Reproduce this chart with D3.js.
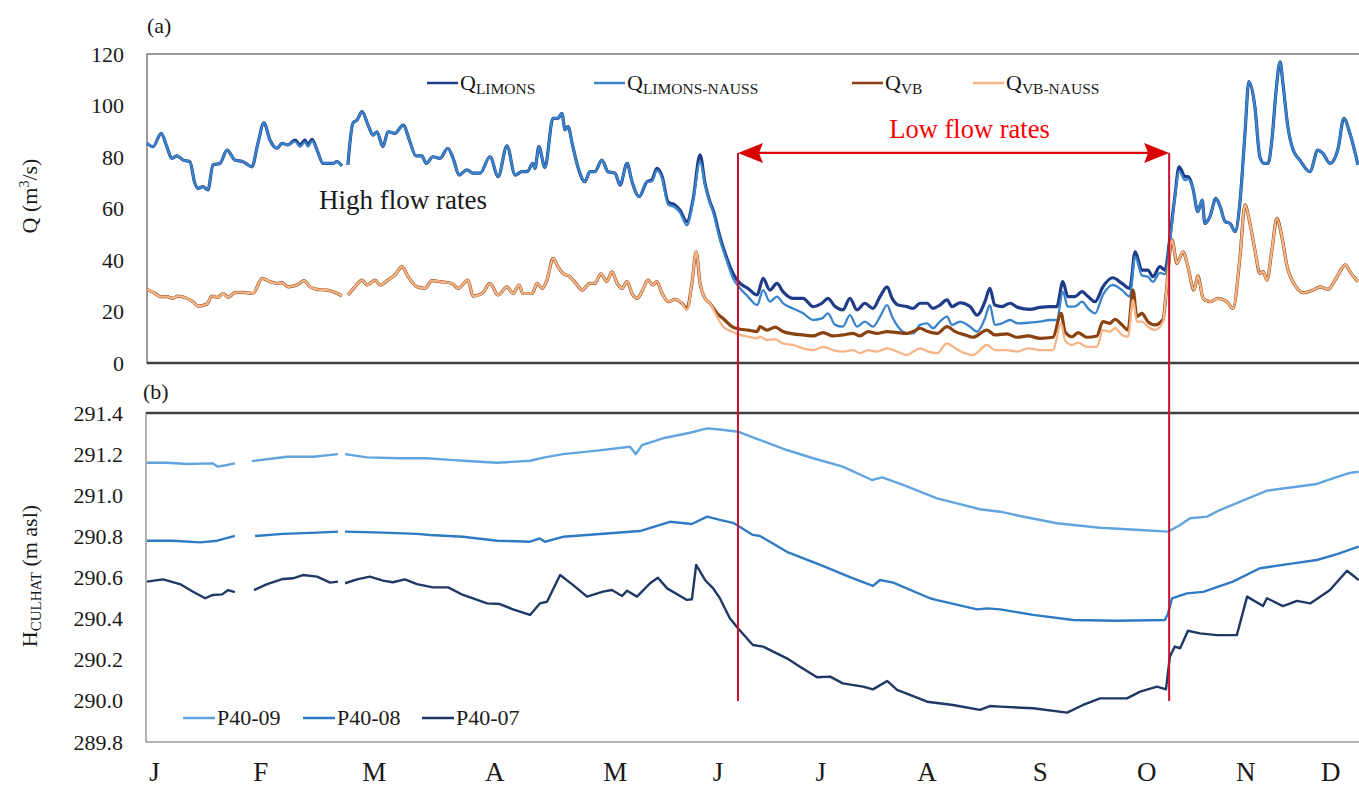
<!DOCTYPE html>
<html>
<head>
<meta charset="utf-8">
<script src="https://cdn.jsdelivr.net/npm/d3@7"></script>
<style>
body { margin: 0; background: #fff; }
text { font-family: "Liberation Serif", "Times New Roman", serif; fill: #1a1a1a; }
</style>
</head>
<body>
<svg id="chart" width="1359" height="789"></svg>
<script>
// ---- data (day of year) ----
var daysLimons = [0,1.7,4,5.6,7,8.5,10.2,12.1,13.5,14.4,
	15.8,17.2,18.6,20.6,22.6,24.8,27.1,29.6,31.3,33,
	34.7,36.7,38.1,39.8,41.8,43.2,44.6,45.4,46.6,48,
	49.7,51.1,52.5,53.6,55,55.8,56.7,58.1,59.3,60.7,
	62.4,63.8,64.9,66.6,68,70,72.3,74.2,75.9,77.6,
	78.8,80.7,82.7,84.9,86.4,88.1,90.3,92,94,96.8,
	99.1,101.6,103.9,105.8,107.3,108.9,109.5,110.6,112.3,114.6,
	116,117.1,118,118.8,120.2,121.6,123.6,125,126.4,128.4,
	130.1,132.1,133.5,135.5,136.9,138.9,141.1,142.5,143.9,145.4,
	147.1,149,150.4,152.4,154.1,156.1,157.5,158.9,159.8,161.7,
	163.7,165.4,167.4,169.6,172.2,173.9,175.8,177.8,179.5,182.3,
	185.2,188,190.5,192.2,194.2,196.4,198.4,200.4,202.6,204.9,
	206.9,208.9,210.3,212,214.5,216.2,218.2,220.2,221.8,223.8,
	225.8,227.2,229.5,232.3,234.3,236.5,237.9,239.3,241.3,243.6,
	245.8,249.2,252,254.9,256.8,258.5,259.9,261.9,263.9,265.6,
	267.6,269.8,272.6,275.2,277.4,278.9,280.8,282.5,283.9,285.9,
	287.3,288.7,290.1,291.3,293,293.8,295.2,296.6,297.8,298.6,
	300,301.7,302.9,304.3,305.7,307.1,308.5,309.9,311,312.7,
	314.1,315.3,316.4,317.5,318.7,319.8,320.6,322,323.5,325.4,
	328.2,330.5,331.9,333.9,336.2,337.8,339.5,341.8];

var qLimons = [85.3,84,89.2,84,79.5,80.4,78.8,78.2,69.8,67.8,
	68.5,67.2,76.9,77.5,82.7,78.8,78.2,76.2,85.3,93.3,
	86.6,83.4,85.3,84.7,86.6,84.7,86.6,84.7,86.9,82.7,
	77.5,77.5,77.5,78.2,76.5,null,76.9,93.1,94.4,97.6,
	92.4,88.5,89.8,84,89.8,89.2,92.4,86,80.4,80.4,
	77.5,80.1,79.5,83.4,79.5,73,75,73.7,73.7,80.1,
	72.4,84.3,73,74.3,74.3,77.5,75.6,84,76,95,
	95,97,90.5,91.8,84,76.2,70.4,74.3,74.3,78.8,
	74.3,73.7,69.1,77.5,70.4,64.6,70.4,71.1,75.6,72.4,
	62.5,61.4,59.4,54.9,63.3,80.8,69.8,62.5,59.4,49.1,
	40.6,34.8,30.9,29,26.4,32.9,28.3,30.9,27.7,25.1,
	25.1,21.9,23.2,25.1,21.9,20.6,25.1,20.6,23.2,21.2,
	25.8,29.6,25.1,22.5,21.9,21.2,23.2,23.2,21.2,22.5,
	24.5,21.9,23.4,21.9,18.6,23.8,29,22.5,21.9,23.2,
	21.6,20.8,21.6,21.9,21.9,31.6,25.8,25.8,27.7,25.8,
	23.8,29.6,33.1,30.9,29,43.2,36.1,36.1,33.5,37.4,
	36.1,48.5,64.6,76.2,72.4,72.4,67.8,58.8,63.3,54.2,
	56.8,63.9,60.7,54.9,54.2,51,62.7,89.2,109.3,99.5,
	80.1,77.5,77.5,86.6,106,117,108.7,91.8,82.7,78.8,
	74.3,82.7,81.4,77.5,83.4,95,89.2,76.9];

var qLimonsNauss = [85.3,84,89.2,84,79.5,80.4,78.8,78.2,69.8,67.8,
	68.5,67.2,76.9,77.5,82.7,78.8,78.2,76.2,85.3,93.3,
	86.6,83.4,85.3,84.7,86,84,85.8,84,86.2,82.7,
	77.5,77.5,77.5,78.2,76.5,null,76.9,93.1,94.4,97.6,
	92.4,88.5,89.8,84,89.8,89.2,92.4,86,80.4,80.4,
	77.5,80.1,79.5,83.4,79.5,73,75,73.7,73.7,80.1,
	72.4,84.3,73,74.3,74.3,77.5,75.6,84,76,95,
	95,97,90.5,91.8,84,76.2,70.4,74.3,74.3,78.8,
	74.3,73.7,69.1,77.5,70.4,64.6,70.4,70.5,74.8,71.6,
	61.5,60.5,58.5,53.5,62.5,78.2,69,62,58.5,48,
	39.5,32.9,29,25.8,22.5,28.3,23.8,25.8,23.2,21.2,
	19.3,16.7,17.3,19.3,14.8,14.1,18.6,14.1,16.1,14.1,
	18,22.5,18,14.1,11.5,11.5,14.8,15.4,13.5,16.1,
	18,14.8,16.1,14.1,12.2,17.3,22.5,14.8,15.4,16.7,
	15.4,15.7,16.1,16.7,16.7,27.7,21.9,21.9,23.8,21.2,
	19.3,26.4,30.3,28.3,25.8,41.3,34,33.5,31.5,35,
	34.5,47,64,74.5,71,71.5,67.8,58.8,63.3,54.2,
	56.8,63.9,60.7,54.9,54.2,51,62.7,89.2,109.3,99.5,
	80.1,77.5,77.5,86.6,106,117,108.7,91.8,82.7,78.8,
	74.3,82.7,81.4,77.5,83.4,95,89.2,76.9];

var daysVB = [0,2.3,3.7,5.6,7.3,8.7,11.3,13,14.4,16.9,
	18.3,20,21.5,22.9,24.8,27.1,29.9,32.5,34.7,36.7,
	38.1,39.8,42.3,44.3,46,48,50.8,53.1,55,55.8,
	56.7,58.7,60.7,62.1,64.4,65.8,68,70,72,73.7,
	76.2,78.5,80.4,82.7,86.1,87.8,90.6,92,94.6,96.8,
	99.1,101.6,103.3,105,106.1,108.7,110.1,111.5,112.9,114.6,
	116,117.4,119.4,121.4,122.8,125,126.4,128.1,129.8,131.2,
	132.7,134.1,135.5,136.9,138.3,139.7,141.4,142.8,143.9,145.4,
	147.1,149,151,152.4,153.8,155,156.1,157.5,158.9,160.9,
	162.6,165.1,167.4,169.6,172.2,173,175,177.3,179.5,182.3,
	185.2,188,190.8,193.6,196.4,199.3,201.2,203.5,206,208.9,
	211.7,214.5,216.2,218.2,220.4,223,225.8,228.1,230.9,233.1,
	237.1,239.3,242.7,245.6,248.7,252,255.7,258,259.1,261.1,
	262.8,265.3,268.1,269.8,271.8,273.2,275.2,276.9,278.3,279.4,
	280.8,282.5,284.5,286.8,287.6,289.3,290.7,292.4,293.8,295.5,
	296.6,298.1,300,302.3,304.8,306.5,308.5,309.9,311.3,312.7,
	314.1,315,316.1,317.5,318.9,320.3,321.8,324,326.3,329.1,
	331.1,333.3,335.9,338.2,339.5,341.8];

var qVB = [28.6,27,25.8,25.8,25.1,26,25.1,23.8,22.1,22.9,
	26,25.5,27,25.5,27.3,27.4,27,32.9,31.6,30.9,
	31.2,29.6,30.3,32,29.6,28.6,28.3,27.4,26.1,null,
	26.4,29.6,32.2,30.3,32.2,30.3,32.2,34.2,37.4,33.5,
	29.6,29,32,31.6,30.9,29,32.2,26,27,30.9,
	26.4,29.6,27,30.3,27,27,30.9,29,32.2,40.6,
	37.4,34.8,33.5,30.3,28.3,30.9,30.9,34.6,31.6,35.5,
	30.9,29,31.6,27,25.1,27.7,32.2,30.3,31.6,27,
	23.8,24.7,23.2,21.2,30.9,43.2,30.9,25.1,23.2,19.3,
	17.3,14.1,13.1,12.8,12.2,14.1,12.8,13.9,12.2,11.3,
	10.9,10.5,11.8,10.5,10.9,11.5,10.5,12.2,11.5,12.2,
	11.8,11.5,12.2,13.5,12.2,11.5,14.1,12.2,10.9,10,
	12.8,10.9,11.3,10,10.5,9.6,10,19.3,12.2,10.2,
	11.8,10,10.5,16.1,15.4,17,14.8,12.8,28.3,18,
	19.3,16.1,14.8,17,26.4,47.8,38.7,43.2,37.4,28.3,
	33.8,25.1,23.8,25.1,23.8,21.2,41.3,61.4,54.2,43.9,
	34.8,35.5,32.2,43.9,56.2,49.1,37.4,30.3,27.3,28.3,
	29.6,28.6,33.5,38.1,35.5,31.6];

var qVBNauss = [28.6,27,25.8,25.8,25.1,26,25.1,23.8,22.1,22.9,
	26,25.5,27,25.5,27.3,27.4,27,32.9,31.6,30.9,
	31.2,29.6,30.3,32,29.6,28.6,28.3,27.4,26.1,null,
	26.4,29.6,32.2,30.3,32.2,30.3,32.2,34.2,37.4,33.5,
	29.6,29,32,31.6,30.9,29,32.2,26,27,30.9,
	26.4,29.6,27,30.3,27,27,30.9,29,32.2,40.6,
	37.4,34.8,33.5,30.3,28.3,30.9,30.9,34.6,31.6,35.5,
	30.9,29,31.6,27,25.1,27.7,32.2,30.3,31.6,27,
	23.8,24.7,23.2,20.6,30.9,43.2,30.9,25.1,23.2,18,
	14.1,12.2,10.9,10.2,9.6,10.2,8.9,9.2,7.6,7,
	5.7,5,6.3,5,4.4,5,3.8,5,4.4,5.7,
	4.4,3.1,4.4,5.7,4.4,3.8,7.6,5.7,3.8,3.1,
	7,5,5,4.4,5.7,5,5,15.4,8.9,7,
	7.9,6.3,6.3,12.8,12.2,13.5,10.9,10.2,24.5,16.1,
	16.1,14.1,12.8,16.1,26.4,47.8,38.7,43.2,37.4,28.3,
	33.8,25.1,23.8,25.1,23.8,21.2,41.3,61.4,54.2,43.9,
	34.8,35.5,32.2,43.9,56.2,49.1,37.4,30.3,27.3,28.3,
	29.6,28.6,33.5,38.1,35.5,31.6];

var days09 = [0,5.6,11.3,18.6,20,22.6,24.8,27,29.6,33.9,39.5,46.9,53.9,55,
	55.9,62.1,71.4,79,85.5,89.2,98.8,108.1,112.3,117.4,
	127,136.3,138,139.7,145.6,153.3,158.1,161.7,166.8,171,
	180.6,188,196.4,204.6,207.5,213.4,223,235.1,240.8,246.4,
	256.8,269,280.3,288.2,291.6,294.4,299.2,302.8,316.1,330.2,
	334.7,339.5,342];
var h09 = [291.158,291.158,291.152,291.155,291.139,291.147,291.155,null,291.166,291.175,291.187,291.187,291.2,null,
	291.2,291.184,291.18,291.18,291.172,291.168,291.158,291.168,291.184,291.2,
	291.217,291.236,291.2,291.244,291.277,291.304,291.325,291.32,291.309,291.282,
	291.22,291.18,291.139,291.074,291.087,291.05,290.985,290.932,290.92,290.899,
	290.864,290.842,290.831,290.823,290.855,290.888,290.896,290.928,291.022,291.055,
	291.082,291.109,291.114];

var days08 = [0,7.3,15,19.8,24.8,27,30.5,38.4,48,53.9,
	55,55.9,66.6,76.2,79.9,89.2,98.8,108.1,110.9,112.3,
	117.4,127,139.1,147.6,153.8,158.1,161.7,165.4,171,173,
	180.6,190,199.3,204.9,206.9,210.6,221,223,234.3,237.1,
	240.8,250.1,261.4,273.8,287.3,288.2,289.3,293.5,298.1,306.5,
	314.1,323.5,330.2,335.9,342];
var h08 = [290.779,290.779,290.771,290.779,290.802,null,290.802,290.812,290.818,290.823,
	null,290.823,290.818,290.812,290.807,290.798,290.779,290.774,290.79,290.774,
	290.798,290.81,290.826,290.871,290.86,290.896,290.88,290.866,290.807,290.802,
	290.725,290.661,290.596,290.559,290.588,290.575,290.499,290.49,290.445,290.45,
	290.445,290.418,290.393,290.39,290.393,290.426,290.499,290.523,290.53,290.58,
	290.645,290.669,290.685,290.714,290.75];

var days07 = [0,4.5,9.3,13,16.4,18.6,21.2,22.9,24.8,27,
	30.2,33.9,38.4,41.2,44,48,51.7,53.9,55,
	55.9,59.3,62.9,66.6,69.4,72.8,76.2,80.7,85,89.2,
	96,99.6,103.3,108.1,110.9,112.9,116.6,120.2,124.2,128.7,
	131.2,134.1,135.5,138.3,142,144.2,146.8,152.4,153.8,155,
	157.5,159.8,161.7,164.5,166.8,171,173.9,180.6,184.3,189.1,
	192.8,196.4,202.1,204.9,208.9,211.7,220.2,227.5,235.1,237.9,
	240.8,250.1,259.7,264.2,269,276.6,280.3,285.1,287.6,288.7,
	290.1,291.6,293.8,297.2,302,307.6,310.5,315,316.1,320.6,
	324.6,328.3,333.9,338.7,342];
var h07 = [290.58,290.591,290.568,290.531,290.499,290.515,290.518,290.539,290.529,null,
	290.539,290.568,290.593,290.596,290.612,290.604,290.575,290.58,null,
	290.572,290.591,290.604,290.585,290.577,290.591,290.568,290.552,290.552,290.515,
	290.474,290.471,290.445,290.418,290.474,290.482,290.612,290.564,290.507,290.531,
	290.539,290.51,290.536,290.507,290.572,290.599,290.547,290.491,290.494,290.661,
	290.588,290.547,290.499,290.402,290.353,290.272,290.264,290.207,290.166,290.115,
	290.118,290.085,290.069,290.056,290.097,290.053,289.996,289.98,289.956,289.975,
	289.972,289.964,289.943,289.98,290.012,290.012,290.045,290.069,290.056,290.215,
	290.264,290.256,290.341,290.328,290.32,290.32,290.507,290.461,290.499,290.461,
	290.486,290.474,290.539,290.633,290.588];

var monthDays = [2,32,64,98,132,161,190,220,252,282,310,334];
var monthLabels = ['J','F','M','A','M','J','J','A','S','O','N','D'];
var qTicks = [0,20,40,60,80,100,120];
var hTicks = [289.8,290.0,290.2,290.4,290.6,290.8,291.0,291.2,291.4];
var lowFlowDays = [166.8, 288.5];
var lowFlowQ = 81.6;
var lowFlowH = 290.0;

// ---- layout ----
var svg = d3.select('#chart');
var left = 147, pxPerDay = 3.543;
var x = d3.scaleLinear().domain([0,365]).range([left, left + 365*pxPerDay]);
var yQ = d3.scaleLinear().domain([0,120]).range([363,54]);
var yH = d3.scaleLinear().domain([289.8,291.4]).range([742,413]);

function zip(a,b){ return a.map(function(d,i){ return [d,b[i]]; }); }

// panel frames
svg.append('rect').attr('x',left).attr('y',yQ(120)).attr('width',1400).attr('height',yQ(0)-yQ(120))
	.attr('fill','none').attr('stroke','#7a7a7a').attr('stroke-width',1.5);
svg.append('line').attr('x1',left).attr('x2',1359).attr('y1',yQ(0)).attr('y2',yQ(0))
	.attr('stroke','#404040').attr('stroke-width',2.5);
svg.append('rect').attr('x',left-1).attr('y',yH(291.4)).attr('width',1400).attr('height',yH(289.8)-yH(291.4))
	.attr('fill','none').attr('stroke','#8a8a8a').attr('stroke-width',1.3);
svg.append('line').attr('x1',left-1).attr('x2',1359).attr('y1',yH(291.4)).attr('y2',yH(291.4))
	.attr('stroke','#404040').attr('stroke-width',2.5);

// axes
var ax1 = svg.append('g').attr('transform','translate('+left+',0)')
	.call(d3.axisLeft(yQ).tickValues(qTicks).tickSize(0).tickPadding(23));
var ax2 = svg.append('g').attr('transform','translate('+(left-1)+',0)')
	.call(d3.axisLeft(yH).tickValues(hTicks).tickSize(0).tickPadding(23).tickFormat(d3.format('.1f')));
var ax3 = svg.append('g').attr('transform','translate(0,742)')
	.call(d3.axisBottom(x).tickValues(monthDays).tickSize(0).tickPadding(20)
		.tickFormat(function(d,i){ return monthLabels[i]; }));
[ax1,ax2,ax3].forEach(function(a){
	a.select('.domain').remove();
	a.selectAll('text').attr('fill','#1a1a1a').style('font-family','"Liberation Serif", serif');
});
ax1.selectAll('text').style('font-size','22px');
ax2.selectAll('text').style('font-size','22px');
ax3.selectAll('text').style('font-size','27px');

// lines
var lineQ = d3.line().defined(function(d){ return d[1] !== null; })
	.x(function(d){ return x(d[0]); }).y(function(d){ return yQ(d[1]); })
	.curve(d3.curveMonotoneX);
var lineH = d3.line().defined(function(d){ return d[1] !== null; })
	.x(function(d){ return x(d[0]); }).y(function(d){ return yH(d[1]); });

var topSeries = [
	{ name:'LIMONS', data: zip(daysLimons,qLimons), color:'#1f3c88', w:3.2 },
	{ name:'LIMONS-NAUSS', data: zip(daysLimons,qLimonsNauss), color:'#3a84cc', w:2.3 },
	{ name:'VB', data: zip(daysVB,qVB), color:'#8a4210', w:3.2 },
	{ name:'VB-NAUSS', data: zip(daysVB,qVBNauss), color:'#f6b586', w:2.3 }
];
topSeries.forEach(function(s){
	svg.append('path').attr('d', lineQ(s.data)).attr('fill','none')
		.attr('stroke',s.color).attr('stroke-width',s.w).attr('stroke-linejoin','round');
});

var botSeries = [
	{ name:'P40-09', data: zip(days09,h09), color:'#62a4de' },
	{ name:'P40-08', data: zip(days08,h08), color:'#2f7ac4' },
	{ name:'P40-07', data: zip(days07,h07), color:'#1f3864' }
];
botSeries.forEach(function(s){
	svg.append('path').attr('d', lineH(s.data)).attr('fill','none')
		.attr('stroke',s.color).attr('stroke-width',2.4).attr('stroke-linejoin','round');
});

// low flow annotation
var xa = x(lowFlowDays[0]), xb = x(lowFlowDays[1]), ya = yQ(lowFlowQ);
lowFlowDays.forEach(function(d){
	svg.append('line').attr('x1',x(d)).attr('x2',x(d)).attr('y1',ya).attr('y2',yH(lowFlowH))
		.attr('stroke','#c8102e').attr('stroke-width',2);
});
svg.append('line').attr('x1',xa+10).attr('x2',xb-10).attr('y1',ya).attr('y2',ya)
	.attr('stroke','#e00000').attr('stroke-width',2.2);
svg.append('path').attr('d','M'+xa+','+ya+'L'+(xa+25)+','+(ya-10)+'L'+(xa+21)+','+ya+'L'+(xa+25)+','+(ya+10)+'Z')
	.attr('fill','#d80000');
svg.append('path').attr('d','M'+xb+','+ya+'L'+(xb-25)+','+(ya-10)+'L'+(xb-21)+','+ya+'L'+(xb-25)+','+(ya+10)+'Z')
	.attr('fill','#d80000');
svg.append('text').attr('x',(xa+xb)/2+16).attr('y',138).attr('text-anchor','middle')
	.style('font-size','26.5px').style('fill','#ff0000').text('Low flow rates');
svg.append('text').attr('x',319).attr('y',209).style('font-size','27px').text('High flow rates');

// panel labels
svg.append('text').attr('x',147).attr('y',33).style('font-size','22px').text('(a)');
svg.append('text').attr('x',143).attr('y',399).style('font-size','22px').text('(b)');

// axis titles
var t1 = svg.append('text').attr('transform','translate(37,196) rotate(-90)')
	.attr('text-anchor','middle').style('font-size','22px');
t1.append('tspan').text('Q (m');
t1.append('tspan').attr('dy',-8).style('font-size','14px').text('3');
t1.append('tspan').attr('dy',8).text('/s)');
var t2 = svg.append('text').attr('transform','translate(37,576) rotate(-90)')
	.attr('text-anchor','middle').style('font-size','22px');
t2.append('tspan').text('H');
t2.append('tspan').attr('dy',4).style('font-size','15px').text('CULHAT');
t2.append('tspan').attr('dy',-4).text(' (m asl)');

// top legend
var legTop = [
	{ x:427, sub:'LIMONS', s:topSeries[0] },
	{ x:594, sub:'LIMONS-NAUSS', s:topSeries[1] },
	{ x:852, sub:'VB', s:topSeries[2] },
	{ x:973, sub:'VB-NAUSS', s:topSeries[3] }
];
legTop.forEach(function(l){
	svg.append('line').attr('x1',l.x).attr('x2',l.x+31).attr('y1',83).attr('y2',83)
		.attr('stroke',l.s.color).attr('stroke-width',2.5);
	var t = svg.append('text').attr('x',l.x+33).attr('y',90).style('font-size','22px');
	t.append('tspan').text('Q');
	t.append('tspan').attr('dy',4).style('font-size','15.5px').text(l.sub);
});

// bottom legend
var legBot = [183, 303, 422];
botSeries.forEach(function(s,i){
	svg.append('line').attr('x1',legBot[i]).attr('x2',legBot[i]+32).attr('y1',718).attr('y2',718)
		.attr('stroke',s.color).attr('stroke-width',2.5);
	svg.append('text').attr('x',legBot[i]+34).attr('y',725).style('font-size','22px').text(s.name);
});
</script>
</body>
</html>
